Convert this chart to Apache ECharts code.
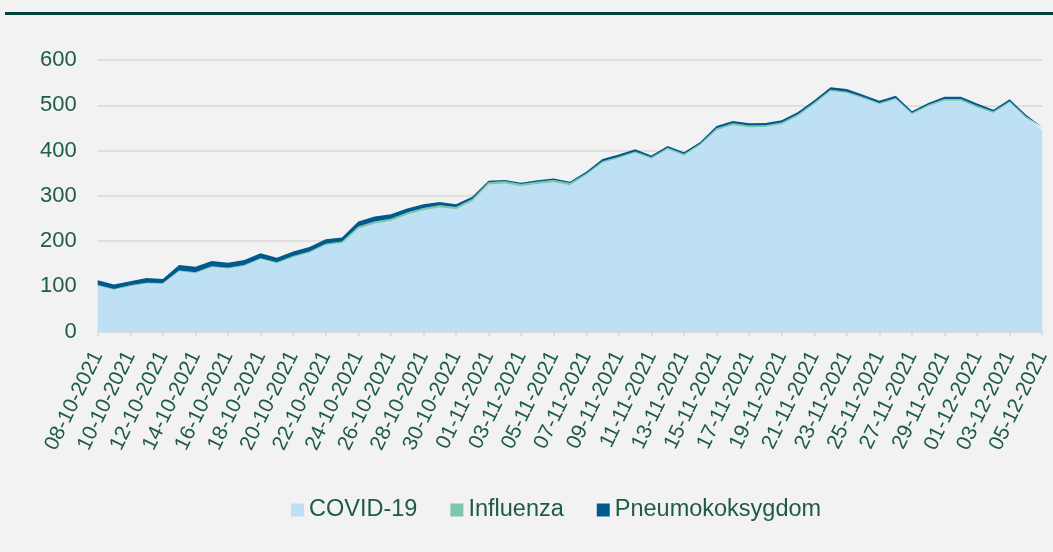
<!DOCTYPE html>
<html>
<head>
<meta charset="utf-8">
<script src="https://cdn.jsdelivr.net/npm/echarts@6/dist/echarts.min.js"></script>
<style>
html,body{margin:0;padding:0;background:#F2F2F2;}
#c{width:1053px;height:552px;}
</style>
</head>
<body>
<div id="c"></div>
<script>
var dates = [];
(function(){
  var d = new Date(Date.UTC(2021, 9, 8));
  for (var i = 0; i < 59; i++) {
    var dd = String(d.getUTCDate()).padStart(2,'0');
    var mm = String(d.getUTCMonth()+1).padStart(2,'0');
    dates.push(dd + '-' + mm + '-' + d.getUTCFullYear());
    d.setUTCDate(d.getUTCDate()+1);
  }
})();

var total = [113,104,111,118,116,147,143,156,152,158,173,163,177,187,204,
             208,243,254,259,272,281,286,281,298,
             333,335,329,334,338,331,
             353,381,391,403,389,410,396,419,454,465,460,461,467,485,511,
             540,536,523,510,521,487,505,519,519,504,490,513,479,452];
var pneumo = [10,10,9,10,9,12,12,12,11,11,11,10,10,10,10,
              9,11,11,10,9,8,7,6,5,
              3,3,3,3,3,3,
              4,5,5,5,4,4,4,4,5,5,5,5,5,5,5,
              6,6,5,5,5,4,4,5,5,5,4,4,4,4];
var influenza = [2,2,2,2,2,2,2,2,2,2,2,2,3,3,3,
                 4,5,5,5,5,5,5,5,5,
                 5,5,5,5,5,5,
                 3,3,3,3,3,3,3,3,4,4,4,4,4,4,4,
                 3,3,3,3,3,3,3,4,4,4,3,3,3,3];
var covid = total.map(function(t,i){ return t - pneumo[i] - influenza[i]; });

var txt = '#1E5B45';
var chart = echarts.init(document.getElementById('c'));
function area(name, data, color){
  return {
    name: name, type: 'line', stack: 'all', data: data,
    symbol: 'none', lineStyle: {width: 0}, areaStyle: {color: color, opacity: 1},
    itemStyle: {color: color}, emphasis: {disabled: true}
  };
}
chart.setOption({
  backgroundColor: '#F2F2F2',
  animation: false,
  graphic: [{type:'rect', shape:{x:5, y:12, width:1048, height:3}, style:{fill:'#00443A'}}],
  grid: {left: 97.7, right: 3, top: 60, bottom: 220.5},
  legend: {
    top: 493, left: 286, itemWidth: 13, itemHeight: 13, itemGap: 33, icon: 'rect',
    textStyle: {color: txt, fontSize: 23.5, fontFamily: 'Liberation Sans'},
    data: ['COVID-19','Influenza','Pneumokoksygdom']
  },
  xAxis: {
    type: 'category', data: dates, boundaryGap: false,
    axisLine: {lineStyle: {color: '#D9D9D9', width: 1.5}},
    axisTick: {show: true, interval: 1, length: 5, lineStyle: {color: '#D9D9D9', width: 1.5}},
    axisLabel: {interval: 1, rotate: 64, color: txt, fontSize: 21, fontFamily: 'Liberation Sans', margin: 21}
  },
  yAxis: {
    type: 'value', min: 0, max: 600, interval: 100,
    axisLine: {show: false}, axisTick: {show: false},
    splitLine: {lineStyle: {color: '#D9D9D9', width: 1.5}},
    axisLabel: {color: txt, fontSize: 22, fontFamily: 'Liberation Sans', margin: 21}
  },
  series: [
    area('COVID-19', covid, '#BDE0F5'),
    area('Influenza', influenza, '#7CC6AC'),
    area('Pneumokoksygdom', pneumo, '#005A8E')
  ]
});
</script>
</body>
</html>
